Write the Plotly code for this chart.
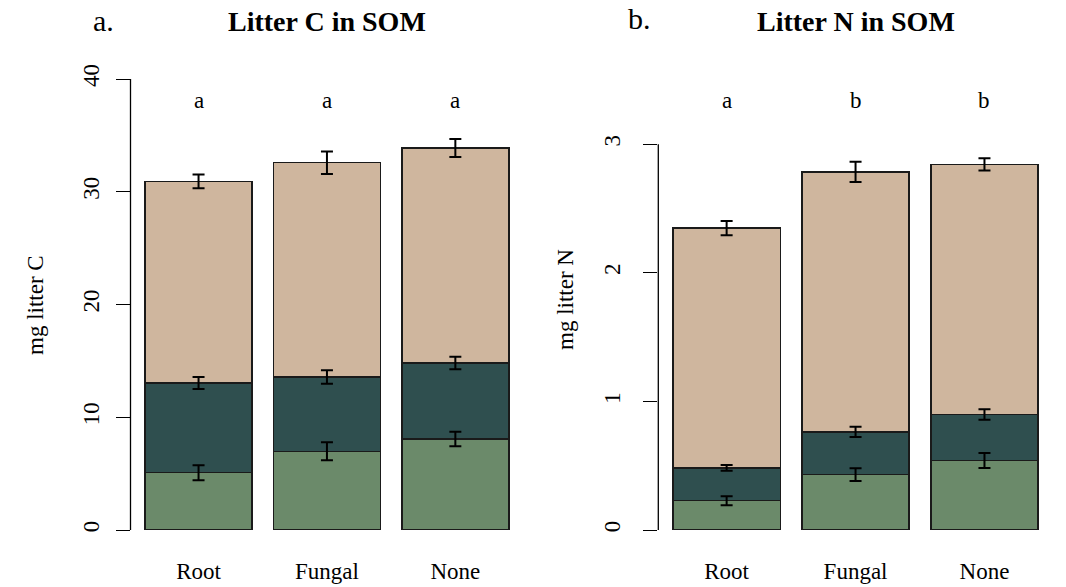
import numpy as np
import plotly.graph_objects as go

# ---- data ----
categories = ["Root", "Fungal", "None"]

c_bottom = [5.08, 6.98, 8.07]
c_bottom_err = [0.66, 0.80, 0.64]
c_middle = [7.96, 6.59, 6.74]
c_middle_err = [0.53, 0.60, 0.56]
c_top = [17.88, 19.01, 19.07]
c_top_err = [0.62, 1.00, 0.80]
c_letters = ["a", "a", "a"]

n_bottom = [0.228, 0.431, 0.540]
n_bottom_err = [0.035, 0.050, 0.058]
n_middle = [0.255, 0.332, 0.358]
n_middle_err = [0.023, 0.039, 0.040]
n_top = [1.864, 2.022, 1.945]
n_top_err = [0.055, 0.078, 0.047]
n_letters = ["a", "b", "b"]

c_ticks = [0, 10, 20, 30, 40]
n_ticks = [0, 1, 2, 3]

# ---- style ----
W, H = 1066, 587
FONT = "Liberation Serif, Times New Roman, serif"
col_bottom = "#6B8A6A"
col_middle = "#2F4F4F"
col_top = "#CFB69E"


def px(x):
    return x / W


def py(y):
    return 1 - y / H


fig = go.Figure()


def add_stack(xaxis, yaxis, segs):
    # bars
    for vals, errs, col in segs:
        fig.add_trace(go.Bar(
            x=categories, y=vals, xaxis=xaxis, yaxis=yaxis,
            marker=dict(color=col, line=dict(color="#1a1a1a", width=1.5)),
            showlegend=False, hoverinfo="skip",
        ))
    # error bars drawn on top, at the cumulative top of each segment
    cum = np.cumsum([np.array(v, dtype=float) for v, _, _ in segs], axis=0)
    for k, (_, errs, _) in enumerate(segs):
        fig.add_trace(go.Scatter(
            x=categories, y=cum[k], xaxis=xaxis, yaxis=yaxis, mode="markers",
            marker=dict(size=1, opacity=0),
            error_y=dict(type="data", array=errs, visible=True,
                         color="black", thickness=2, width=6),
            showlegend=False, hoverinfo="skip",
        ))


add_stack("x", "y", [(c_bottom, c_bottom_err, col_bottom),
                     (c_middle, c_middle_err, col_middle),
                     (c_top, c_top_err, col_top)])
add_stack("x2", "y2", [(n_bottom, n_bottom_err, col_bottom),
                       (n_middle, n_middle_err, col_middle),
                       (n_top, n_top_err, col_top)])

ydom = [py(530), py(79)]
xaxis_common = dict(type="category", range=[-0.53, 2.53], showline=False,
                    showgrid=False, zeroline=False, ticks="",
                    tickfont=dict(family=FONT, size=23, color="black"),
                    ticklabelstandoff=25, automargin=False, fixedrange=True)
yaxis_common = dict(showline=False, showgrid=False, zeroline=False,
                    ticks="outside", ticklen=14, tickwidth=1.3, tickcolor="black",
                    tickangle=-90, tickfont=dict(family=FONT, size=23, color="black"),
                    automargin=False, fixedrange=True)

fig.update_layout(
    width=W, height=H,
    margin=dict(l=0, r=0, t=0, b=0),
    paper_bgcolor="white", plot_bgcolor="white",
    barmode="stack", bargap=0.167,
    template="none",
    xaxis=dict(domain=[px(130.5), px(523.4)], anchor="y", **xaxis_common),
    xaxis2=dict(domain=[px(658.3), px(1052.8)], anchor="y2", **xaxis_common),
    yaxis=dict(domain=ydom, anchor="x", range=[0, 40], tickvals=c_ticks,
               ticktext=[str(t) for t in c_ticks], ticklabelstandoff=7, **yaxis_common),
    yaxis2=dict(domain=ydom, anchor="x2", range=[0, 3.507], tickvals=n_ticks,
                ticktext=[str(t) for t in n_ticks], ticklabelstandoff=14, **yaxis_common),
)

# axis lines spanning tick range only (R style)
fig.add_shape(type="line", xref="x domain", yref="y", x0=0, x1=0,
              y0=c_ticks[0], y1=c_ticks[-1], line=dict(color="black", width=1.3))
fig.add_shape(type="line", xref="x2 domain", yref="y2", x0=0, x1=0,
              y0=n_ticks[0], y1=n_ticks[-1], line=dict(color="black", width=1.3))

ann = []
# panel titles
ann.append(dict(text="<b>Litter C in SOM</b>", x=px(327), y=py(21), xref="paper", yref="paper",
                showarrow=False, font=dict(family=FONT, size=28, color="black"),
                xanchor="center", yanchor="middle"))
ann.append(dict(text="<b>Litter N in SOM</b>", x=px(855.5), y=py(21), xref="paper", yref="paper",
                showarrow=False, font=dict(family=FONT, size=28, color="black"),
                xanchor="center", yanchor="middle"))
ann.append(dict(text="a.", x=px(91), y=py(20), xref="paper", yref="paper",
                showarrow=False, font=dict(family=FONT, size=30, color="black"),
                xanchor="left", yanchor="middle"))
ann.append(dict(text="b.", x=px(626), y=py(18), xref="paper", yref="paper",
                showarrow=False, font=dict(family=FONT, size=30, color="black"),
                xanchor="left", yanchor="middle"))
# y axis titles
ann.append(dict(text="mg litter C", x=px(35), y=py(305), xref="paper", yref="paper",
                showarrow=False, textangle=-90, font=dict(family=FONT, size=23, color="black"),
                xanchor="center", yanchor="middle"))
ann.append(dict(text="mg litter N", x=px(565), y=py(300), xref="paper", yref="paper",
                showarrow=False, textangle=-90, font=dict(family=FONT, size=23, color="black"),
                xanchor="center", yanchor="middle"))
# significance letters
for cat, lab in zip(categories, c_letters):
    ann.append(dict(text=lab, x=cat, y=py(100), xref="x", yref="paper", showarrow=False,
                    font=dict(family=FONT, size=23, color="black"),
                    xanchor="center", yanchor="middle"))
for cat, lab in zip(categories, n_letters):
    ann.append(dict(text=lab, x=cat, y=py(100), xref="x2", yref="paper", showarrow=False,
                    font=dict(family=FONT, size=23, color="black"),
                    xanchor="center", yanchor="middle"))
fig.update_layout(annotations=ann)

fig.write_html("out.html", config={"displayModeBar": False},
               post_script="document.body.style.margin='0';")
